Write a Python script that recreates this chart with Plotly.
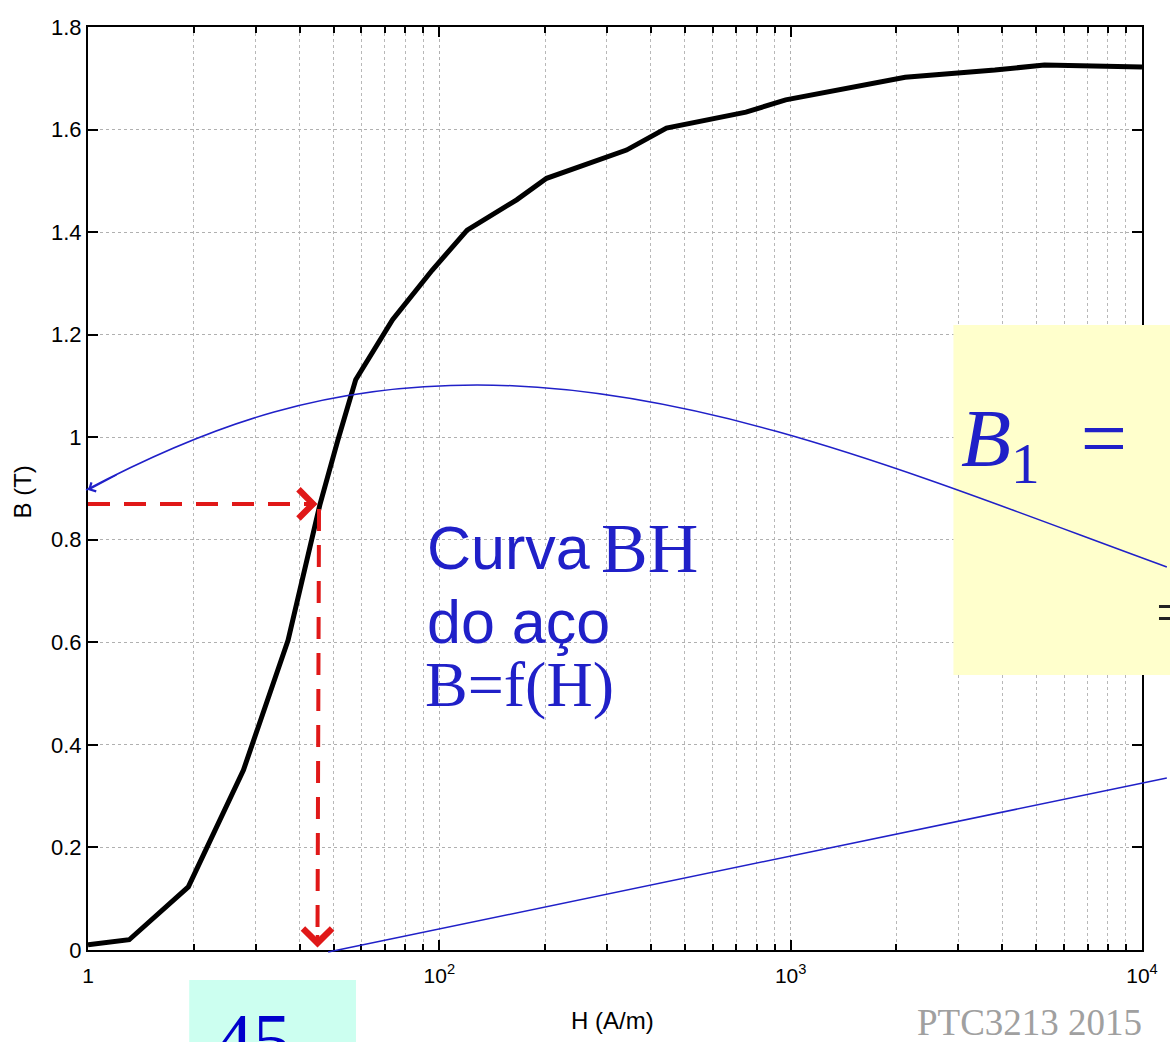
import math
import plotly.graph_objects as go

# ---------------- data ----------------
H_curve = [10, 13.1, 19.3, 27.7, 37.1, 45.7, 51.4, 57.8, 73.6, 95.5, 120, 166, 202,
           341, 443, 746, 968, 2118, 3812, 5277, 10000]
B_curve = [0.01, 0.02, 0.123, 0.351, 0.604, 0.868, 0.994, 1.112, 1.229, 1.326, 1.404,
           1.463, 1.505, 1.560, 1.603, 1.634, 1.658, 1.702, 1.716, 1.726, 1.722]

H_op = 45          # operating point read on the curve
B_op = 0.87
H_min = 10

x_tickvals = [10, 100, 1000, 10000]
x_ticktext = ["1", "10<sup>2</sup>", "10<sup>3</sup>", "10<sup>4</sup>"]
x_minor = [m * 10 ** d for d in (1, 2, 3) for m in range(2, 10)]
y_tickvals = [0, 0.2, 0.4, 0.6, 0.8, 1.0, 1.2, 1.4, 1.6, 1.8]

# ---------------- layout geometry (pixels of the 1170x1042 page) ----------------
W, Hh = 1170, 1042
L, R, T, Bm = 88, 20, 27, 92
PW = W - L - R
PH = Hh - T - Bm


def px(xpix):
    return (xpix - L) / PW


def py(ypix):
    return (Hh - Bm - ypix) / PH


BLUE = "#2020c8"
RED = "#e01818"

fig = go.Figure()

# BH curve
fig.add_trace(go.Scatter(x=H_curve, y=B_curve, mode="lines",
                         line=dict(color="black", width=5), showlegend=False,
                         hoverinfo="skip"))
# red dashed reading lines
fig.add_trace(go.Scatter(x=[H_min, H_op * 0.985], y=[B_op, B_op], mode="lines",
                         line=dict(color=RED, width=4, dash="22px,14px"),
                         showlegend=False, hoverinfo="skip"))
fig.add_trace(go.Scatter(x=[H_op * 1.01, H_op], y=[B_op - 0.01, 0.03], mode="lines",
                         line=dict(color=RED, width=4, dash="22px,14px"),
                         showlegend=False, hoverinfo="skip"))

shapes = []
# yellow formula box
shapes.append(dict(type="rect", xref="paper", yref="paper",
                   x0=px(960), x1=px(1180), y0=py(675), y1=py(325),
                   fillcolor="#ffffcc", line=dict(width=0), layer="above"))
# cyan value box
shapes.append(dict(type="rect", xref="paper", yref="paper",
                   x0=px(190), x1=px(358), y0=py(1050), y1=py(980),
                   fillcolor="#ccfff0", line=dict(width=0), layer="above"))
# blue arc callout (cubic Bezier in paper coordinates)
arc_pts = [(86, 490), (216, 422), (330, 385), (480, 385), (710, 385), (940, 482), (1175, 567)]
p = [(px(a), py(b)) for a, b in arc_pts]
path = "M {0[0]},{0[1]} C {1[0]},{1[1]} {2[0]},{2[1]} {3[0]},{3[1]} C {4[0]},{4[1]} {5[0]},{5[1]} {6[0]},{6[1]}".format(*p)
shapes.append(dict(type="path", xref="paper", yref="paper", path=path,
                   line=dict(color=BLUE, width=1.5), layer="above"))
# blue straight callout
shapes.append(dict(type="line", xref="paper", yref="paper",
                   x0=px(330), y0=py(952), x1=px(1175), y1=py(778),
                   line=dict(color=BLUE, width=1.5), layer="above"))

annotations = []
# arrowheads
annotations.append(dict(x=math.log10(H_op), y=B_op, xref="x", yref="y", text="",
                        showarrow=True, ax=-14, ay=0, arrowhead=4, arrowsize=1.6,
                        arrowwidth=3.5, arrowcolor=RED))
annotations.append(dict(x=math.log10(H_op), y=0.005, xref="x", yref="y", text="",
                        showarrow=True, ax=0, ay=-14, arrowhead=4, arrowsize=1.6,
                        arrowwidth=3.5, arrowcolor=RED))
annotations.append(dict(x=0, y=py(490), xref="paper", yref="paper", text="",
                        showarrow=True, ax=30, ay=-16, arrowhead=4, arrowsize=1.3,
                        arrowwidth=1.5, arrowcolor=BLUE))

SANS = "Liberation Sans, Arial, sans-serif"
SERIF = "Liberation Serif, Times New Roman, serif"

def txt(t, xpix, ypix, size, family, color, xanchor="left", yanchor="middle"):
    annotations.append(dict(x=px(xpix), y=py(ypix), xref="paper", yref="paper",
                            text=t, showarrow=False, xanchor=xanchor, yanchor=yanchor,
                            font=dict(size=size, family=family, color=color)))

txt("Curva", 428, 548, 61, SANS, BLUE)
txt("BH", 603, 548, 70, SERIF, BLUE)
txt("do aço", 428, 622, 61, SANS, BLUE)
txt("B=f(H)", 426, 684, 64, SERIF, BLUE)
txt("<i>B</i><sub>1</sub>&nbsp;&nbsp;=", 966, 444, 82, SERIF, BLUE)
txt("=", 1162, 612, 60, SERIF, "#222222")
txt("45", 254, 1040, 76, SERIF, "#0000cc", xanchor="center")
txt("PTC3213 2015", 1037, 1022, 37, SERIF, "#a0a0a0", xanchor="center")
txt("H (A/m)", 616, 1020, 24, SANS, "black", xanchor="center")
annotations.append(dict(x=px(22), y=py(492), xref="paper", yref="paper", text="B (T)",
                        showarrow=False, textangle=-90, xanchor="center", yanchor="middle",
                        font=dict(size=24, family=SANS, color="black")))

fig.update_layout(
    width=W, height=Hh,
    margin=dict(l=L, r=R, t=T, b=Bm),
    paper_bgcolor="white", plot_bgcolor="white",
    shapes=shapes, annotations=annotations, showlegend=False,
    font=dict(family=SANS, color="black"),
)

fig.update_xaxes(type="log", range=[1, 4], tickvals=x_tickvals, ticktext=x_ticktext,
                 ticks="inside", ticklen=10, tickwidth=1.5, tickcolor="black",
                 showline=True, linecolor="black", linewidth=2, mirror="ticks",
                 showgrid=True, gridcolor="#b0b0b0", griddash="dot", gridwidth=1,
                 tickfont=dict(size=21, family=SANS, color="black"),
                 ticklabelstandoff=6,
                 minor=dict(tickvals=x_minor, ticks="inside", ticklen=6, tickcolor="black",
                            showgrid=True, gridcolor="#b8b8b8", griddash="dot", gridwidth=1),
                 zeroline=False)
fig.update_yaxes(range=[0, 1.8], tickvals=y_tickvals,
                 ticks="inside", ticklen=10, tickwidth=1.5, tickcolor="black",
                 showline=True, linecolor="black", linewidth=2, mirror="ticks",
                 showgrid=True, gridcolor="#b0b0b0", griddash="dot", gridwidth=1,
                 tickfont=dict(size=22, family=SANS, color="black"),
                 zeroline=False)

fig.write_html("out.html", config={"displayModeBar": False},
               post_script="document.body.style.margin='0';document.body.style.overflow='hidden';")
